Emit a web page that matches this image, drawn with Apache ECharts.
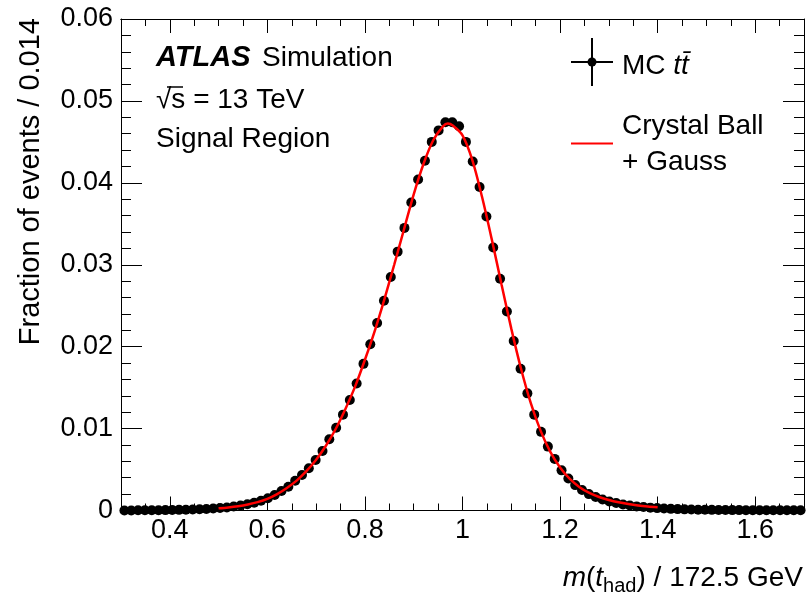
<!DOCTYPE html>
<html>
<head>
<meta charset="utf-8">
<script src="https://cdn.jsdelivr.net/npm/echarts@6/dist/echarts.min.js"></script>
<style>
  html, body { margin: 0; padding: 0; background: #fff; }
  #chart { width: 807px; height: 595px; }
</style>
</head>
<body>
<div id="chart"></div>
<script>
// Histogram binning of m(t_had)/172.5 GeV
const binLow = 0.3;
const binWidth = 0.014;

// Fraction of events per bin (100 bins, 0.3 - 1.7)
const fractions = [
  0.00001, 0.00001, 0.00002, 0.00002, 0.00003, 0.00004, 0.00005, 0.00006, 0.00008, 0.00010,
  0.00012, 0.00015, 0.00019, 0.00024, 0.00030, 0.00037, 0.00049, 0.00061, 0.00076, 0.00095,
  0.00120, 0.00149, 0.00189, 0.00238, 0.00290, 0.00364, 0.00433, 0.00515, 0.00616, 0.00726,
  0.00870, 0.01010, 0.01170, 0.01350, 0.01550, 0.01790, 0.02030, 0.02290, 0.02560, 0.02850,
  0.03160, 0.03450, 0.03760, 0.04040, 0.04270, 0.04500, 0.04640, 0.04740, 0.04740, 0.04690,
  0.04500, 0.04260, 0.03950, 0.03590, 0.03210, 0.02830, 0.02430, 0.02070, 0.01730, 0.01430,
  0.01170, 0.00960, 0.00780, 0.00630, 0.00490, 0.00390, 0.00310, 0.00250, 0.00200, 0.00165,
  0.00134, 0.00110, 0.00091, 0.00073, 0.00060, 0.00050, 0.00042, 0.00035, 0.00029, 0.00024,
  0.00020, 0.00017, 0.00014, 0.00012, 0.00010, 0.00009, 0.00008, 0.00007, 0.00006, 0.00005,
  0.00005, 0.00004, 0.00004, 0.00003, 0.00003, 0.00003, 0.00002, 0.00002, 0.00002, 0.00002
];

// Crystal Ball + Gauss fit curve (0.5 - 1.4)
const fitX = [
  0.50, 0.52, 0.54, 0.56, 0.58, 0.60, 0.62, 0.64, 0.66, 0.68,
  0.70, 0.72, 0.74, 0.76, 0.78, 0.80, 0.82, 0.84, 0.86, 0.88,
  0.90, 0.92, 0.94, 0.96, 0.97, 0.98, 1.00, 1.02, 1.04, 1.06,
  1.08, 1.10, 1.12, 1.14, 1.16, 1.18, 1.20, 1.22, 1.24, 1.26,
  1.28, 1.30, 1.32, 1.34, 1.36, 1.38, 1.40
];
const fitY = [
  0.00027, 0.00038, 0.00053, 0.00074, 0.00102, 0.00142, 0.00200, 0.00275, 0.00365, 0.00480,
  0.00620, 0.00790, 0.00995, 0.01240, 0.01515, 0.01840, 0.02190, 0.02580, 0.03000, 0.03430,
  0.03860, 0.04230, 0.04520, 0.04690, 0.04725, 0.04700, 0.04580, 0.04280, 0.03830, 0.03310,
  0.02760, 0.02220, 0.01730, 0.01310, 0.00975, 0.00715, 0.00525, 0.00385, 0.00285, 0.00215,
  0.00165, 0.00128, 0.00100, 0.00079, 0.00062, 0.00049, 0.00039
];

// Axis ticks
const xMajorTicks = [0.4, 0.6, 0.8, 1.0, 1.2, 1.4, 1.6];
const xMinorTicks = [0.35, 0.45, 0.5, 0.55, 0.65, 0.7, 0.75, 0.85, 0.9, 0.95,
                     1.05, 1.1, 1.15, 1.25, 1.3, 1.35, 1.45, 1.5, 1.55, 1.65];
const yMin = 0, yMax = 0.06, yStep = 0.01;

const points = fractions.map((v, i) => [binLow + binWidth * (i + 0.5), v]);
const fitLine = fitX.map((x, i) => [x, fitY[i]]);

const FONT = '"Liberation Sans", Arial, Helvetica, sans-serif';
const FS = 28;      // annotation text
const FS_TICK = 27; // tick labels

const axisLine = { show: true, onZero: false, lineStyle: { color: '#000', width: 1 } };

function xAxisDef(position, ticks, len, labels) {
  return {
    type: 'value', min: 0.3, max: 1.7, position: position,
    axisLine: axisLine,
    splitLine: { show: false },
    axisTick: { show: true, inside: true, length: len, customValues: ticks,
                lineStyle: { color: '#000', width: 1 } },
    axisLabel: labels ? {
      show: true, customValues: ticks, margin: 7,
      fontFamily: FONT, fontSize: FS_TICK, color: '#000',
      formatter: v => String(parseFloat(Number(v).toFixed(2)))
    } : { show: false }
  };
}

function yAxisDef(position, labels) {
  return {
    type: 'value', min: yMin, max: yMax, interval: yStep, position: position,
    axisLine: axisLine,
    splitLine: { show: false },
    axisTick: { show: true, inside: true, length: 21, lineStyle: { color: '#000', width: 1 } },
    minorTick: { show: true, splitNumber: 5, length: 10, lineStyle: { color: '#000', width: 1 } },
    minorSplitLine: { show: false },
    axisLabel: labels ? {
      show: true, margin: 8, fontFamily: FONT, fontSize: FS_TICK, color: '#000',
      formatter: v => (v === 0 ? '0' : Number(v).toFixed(2))
    } : { show: false }
  };
}

const chart = echarts.init(document.getElementById('chart'), null, { renderer: 'canvas' });

chart.setOption({
  animation: false,
  backgroundColor: '#fff',
  grid: { left: 121, right: 3, top: 19, bottom: 84.5, containLabel: false, outerBoundsMode: 'none' },
  xAxis: [
    xAxisDef('bottom', xMajorTicks, 14, true),
    xAxisDef('bottom', xMinorTicks, 7, false),
    xAxisDef('top', xMajorTicks, 14, false),
    xAxisDef('top', xMinorTicks, 7, false)
  ],
  yAxis: [
    yAxisDef('left', true),
    yAxisDef('right', false)
  ],
  series: [
    {
      name: 'MC tt',
      type: 'scatter',
      xAxisIndex: 0, yAxisIndex: 0,
      data: points,
      symbol: 'circle',
      symbolSize: 10,
      itemStyle: { color: '#000', opacity: 1 },
      z: 2
    },
    {
      name: 'Crystal Ball + Gauss',
      type: 'line',
      xAxisIndex: 0, yAxisIndex: 0,
      data: fitLine,
      smooth: 0.3,
      showSymbol: false,
      lineStyle: { color: '#ff0000', width: 2.5 },
      z: 3
    }
  ],
  graphic: [
    // y-axis title
    {
      type: 'text', x: 31, y: 18, rotation: Math.PI / 2,
      style: { text: 'Fraction of events / 0.014', fontFamily: FONT, fontSize: 29,
               fill: '#000', align: 'right', verticalAlign: 'middle' }
    },
    // x-axis title
    {
      type: 'text', x: 803, y: 578,
      style: {
        text: '{i|m}(' + '{i|t}{sub|had}' + ') / 172.5 GeV',
        fontFamily: FONT, fontSize: FS, fill: '#000', align: 'right', verticalAlign: 'middle',
        rich: {
          i: { fontFamily: FONT, fontSize: FS, fontStyle: 'italic', fill: '#000' },
          sub: { fontFamily: FONT, fontSize: 20, fill: '#000', padding: [17, 0, 0, 0] }
        }
      }
    },
    // ATLAS label
    {
      type: 'text', x: 156, y: 58,
      style: { text: 'ATLAS', fontFamily: FONT, fontSize: 29, fontWeight: 'bold',
               fontStyle: 'italic', fill: '#000', verticalAlign: 'middle' }
    },
    {
      type: 'text', x: 262, y: 58,
      style: { text: 'Simulation', fontFamily: FONT, fontSize: FS, fill: '#000', verticalAlign: 'middle' }
    },
    {
      type: 'text', x: 156, y: 100,
      style: { text: '\u221As = 13 TeV', fontFamily: FONT, fontSize: FS, fill: '#000', verticalAlign: 'middle' }
    },
    {
      type: 'line', shape: { x1: 167, y1: 87, x2: 183, y2: 87 },
      style: { stroke: '#000', lineWidth: 1.5 }
    },
    {
      type: 'text', x: 156, y: 139,
      style: { text: 'Signal Region', fontFamily: FONT, fontSize: FS, fill: '#000', verticalAlign: 'middle' }
    },
    // legend: MC ttbar marker
    {
      type: 'line', shape: { x1: 571, y1: 62, x2: 613, y2: 62 },
      style: { stroke: '#000', lineWidth: 2 }
    },
    {
      type: 'line', shape: { x1: 592, y1: 38, x2: 592, y2: 86 },
      style: { stroke: '#000', lineWidth: 2 }
    },
    {
      type: 'circle', shape: { cx: 592, cy: 62, r: 4.5 },
      style: { fill: '#000' }
    },
    {
      type: 'text', x: 622, y: 66,
      style: {
        text: 'MC {i|t}{i|t\u0304}', fontFamily: FONT, fontSize: FS, fill: '#000', verticalAlign: 'middle',
        rich: { i: { fontFamily: FONT, fontSize: FS, fontStyle: 'italic', fill: '#000' } }
      }
    },
    // legend: fit line
    {
      type: 'line', shape: { x1: 571, y1: 143.5, x2: 613, y2: 143.5 },
      style: { stroke: '#ff0000', lineWidth: 2 }
    },
    {
      type: 'text', x: 622, y: 126,
      style: { text: 'Crystal Ball', fontFamily: FONT, fontSize: FS, fill: '#000', verticalAlign: 'middle' }
    },
    {
      type: 'text', x: 622, y: 162,
      style: { text: '+ Gauss', fontFamily: FONT, fontSize: FS, fill: '#000', verticalAlign: 'middle' }
    }
  ]
});
</script>
</body>
</html>
